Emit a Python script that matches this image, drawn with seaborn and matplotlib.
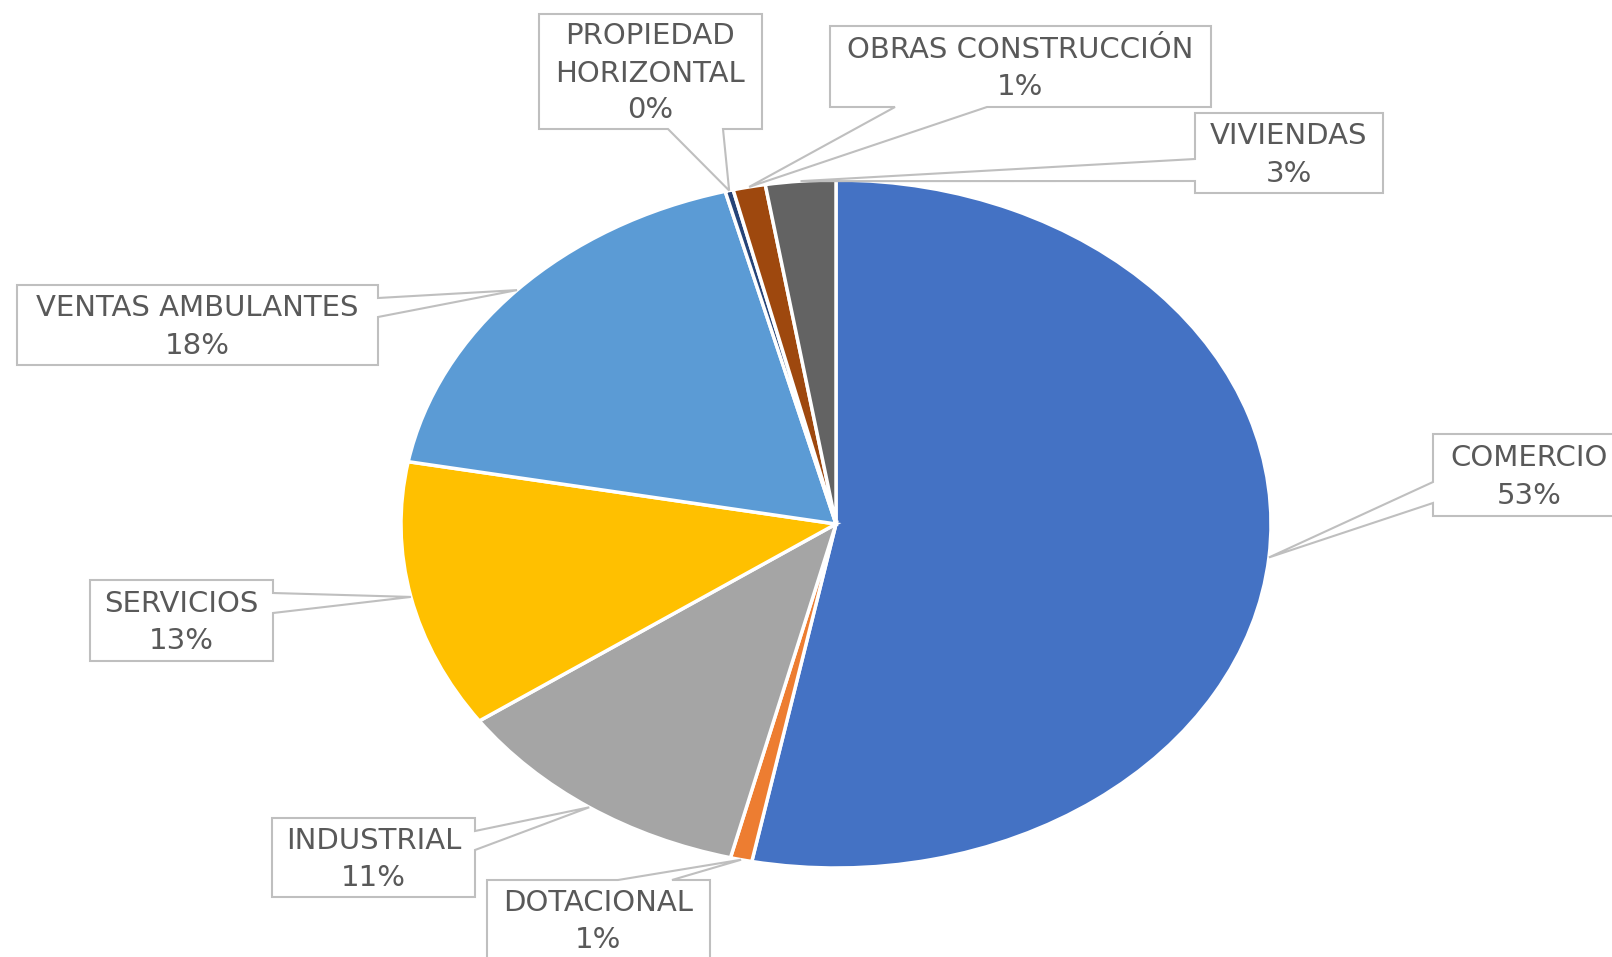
import numpy as np
import matplotlib
matplotlib.use('Agg')
import matplotlib.pyplot as plt
import seaborn as sns
from matplotlib.patches import Polygon

# ===== 数据 =====
categorias = ['COMERCIO', 'DOTACIONAL', 'INDUSTRIAL', 'SERVICIOS',
              'VENTAS AMBULANTES', 'PROPIEDAD\nHORIZONTAL',
              'OBRAS CONSTRUCCIÓN', 'VIVIENDAS']
porcentajes = [53.1, 0.8, 11.4, 12.6, 18.0, 0.3, 1.2, 2.6]
colores = ['#4472C4', '#ED7D31', '#A5A5A5', '#FFC000',
           '#5B9BD5', '#264478', '#9E480E', '#636363']

# cajas de etiqueta (px, origen arriba): x0, y0, x1, y1, lado, base1, base2
cajas = [
    (1433, 434, 1625, 516, 'left', 482, 503),
    (487, 880, 710, 959, 'top', 618, 672),
    (272, 818, 475, 897, 'right', 831, 850),
    (90, 580, 273, 661, 'right', 593, 613),
    (17, 285, 378, 365, 'right', 298, 317),
    (539, 14, 762, 129, 'bottom', 668, 723),
    (830, 26, 1211, 107, 'bottom', 895, 987),
    (1195, 113, 1383, 193, 'left', 159, 181),
]

W, H = 1612, 957
CX, CY = 836, 524      # centro del pastel (px)
RX, RY = 435, 344      # radios de la elipse (px)

sns.set_theme(style='white')
plt.rcParams['font.family'] = ['DejaVu Sans']

fig = plt.figure(figsize=(W / 100, H / 100), dpi=100)
fig.patch.set_facecolor('white')

ax = fig.add_axes([0, 0, 1, 1])
wedges, _ = ax.pie(porcentajes, colors=sns.color_palette(colores),
                   startangle=90, counterclock=False,
                   wedgeprops=dict(edgecolor='white', linewidth=2.5))
ax.set_aspect('auto')
ax.set_xlim(-CX / RX, (W - CX) / RX)
ax.set_ylim(-(H - CY) / RY, CY / RY)
ax.axis('off')

ov = fig.add_axes([0, 0, 1, 1])
ov.set_xlim(0, W)
ov.set_ylim(H, 0)
ov.axis('off')
ov.patch.set_alpha(0)

gris_txt = '#595959'
gris_borde = '#BFBFBF'
fs = 21
paso = 37
cap = 20

for w, nombre, v, caja in zip(wedges, categorias, porcentajes, cajas):
    x0, y0, x1, y1, lado, b1, b2 = caja
    ang = np.deg2rad((w.theta1 + w.theta2) / 2)
    dx, dy = ax.transData.transform((np.cos(ang), np.sin(ang)))
    tip = (dx, H - dy)
    TL, TR, BR, BL = (x0, y0), (x1, y0), (x1, y1), (x0, y1)
    if lado == 'top':
        pts = [TL, (b1, y0), tip, (b2, y0), TR, BR, BL]
    elif lado == 'right':
        pts = [TL, TR, (x1, b1), tip, (x1, b2), BR, BL]
    elif lado == 'bottom':
        pts = [TL, TR, BR, (b2, y1), tip, (b1, y1), BL]
    else:
        pts = [TL, TR, BR, BL, (x0, b2), tip, (x0, b1)]
    ov.add_patch(Polygon(pts, closed=True, facecolor='white',
                         edgecolor=gris_borde, linewidth=1.5, zorder=3))

    lineas = nombre.split('\n') + [f'{round(v):.0f}%']
    cx = (x0 + x1) / 2
    cy = (y0 + y1) / 2
    n = len(lineas)
    for i, t in enumerate(lineas):
        yc = cy + (i - (n - 1) / 2) * paso
        ov.text(cx, yc + cap / 2, t, ha='center', va='baseline',
                fontsize=fs, color=gris_txt, zorder=4)

fig.savefig('out.png', dpi=100, facecolor='white')
